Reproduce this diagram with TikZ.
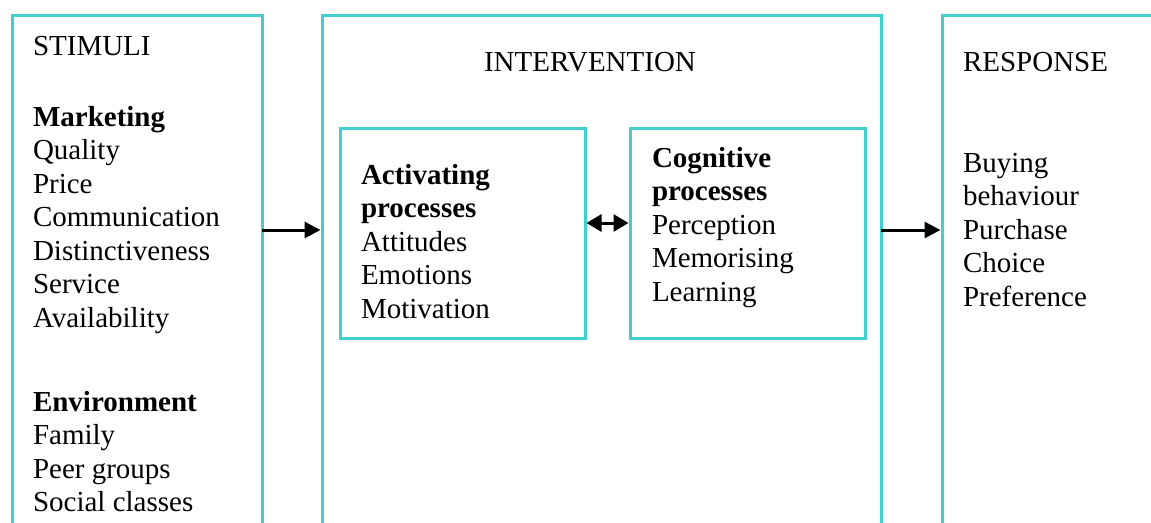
\documentclass[tikz,border=0pt]{standalone}
\usepackage{fontspec}
\setmainfont{Liberation Serif}
\usetikzlibrary{arrows.meta}
\definecolor{boxc}{RGB}{66,206,206}
\begin{document}
\begin{tikzpicture}[x=1pt,y=-1pt,
  box/.style={draw=boxc,line width=3pt,inner sep=0pt,outer sep=0pt,anchor=north west},
  txt/.style={anchor=base west,inner sep=0pt,outer sep=0pt,font=\fontsize{29}{34}\selectfont},
  arr/.style={line width=3pt,-{Triangle[length=16pt,width=16pt]},shorten >=1.5pt},
  darr/.style={line width=3pt,{Triangle[length=15pt,width=17pt]}-{Triangle[length=15pt,width=17pt]},shorten >=1.5pt,shorten <=1.5pt}]
\useasboundingbox (0,0) rectangle (1151,522);
\clip (0,0) rectangle (1151,522);
% boxes
\node[box,minimum width=250pt,minimum height=600pt] (stim) at (12,15) {};
\node[box,minimum width=559pt,minimum height=600pt] (inter) at (322,15) {};
\node[box,minimum width=400pt,minimum height=600pt] (resp) at (942,15) {};
\node[box,minimum width=245pt,minimum height=210pt] (act) at (340,128) {};
\node[box,minimum width=235pt,minimum height=210pt] (cog) at (630,128) {};
% connectors
\draw[arr] (stim.east |- 0,230) -- (inter.west |- 0,230);
\draw[arr] (inter.east |- 0,230) -- (resp.west |- 0,230);
\draw[darr] (act.east |- 0,223) -- (cog.west |- 0,223);
% stimuli text
\node[txt] (t0) at (33,55) {STIMULI};
\node[txt] (m0) at (33,126) {\textbf{Marketing}};
\foreach \t [count=\i] in {Quality,Price,Communication,Distinctiveness,Service,Availability}
  \node[txt] (m\i) at (33,{126+33.5*\i}) {\t};
\node[txt] (e0) at (33,411) {\textbf{Environment}};
\foreach \t [count=\i] in {Family,Peer groups,Social classes}
  \node[txt] (e\i) at (33,{411+33.5*\i}) {\t};
% intervention
\node[txt] (t1) at (484,71) {INTERVENTION};
\node[txt] (a0) at (361,184) {\textbf{Activating}};
\node[txt] (a1) at (361,217.5) {\textbf{processes}};
\foreach \t [count=\i] in {Attitudes,Emotions,Motivation}
  \node[txt] (a\i x) at (361,{217.5+33.5*\i}) {\t};
\node[txt] (c0) at (652,167) {\textbf{Cognitive}};
\node[txt] (c1) at (652,200.5) {\textbf{processes}};
\foreach \t [count=\i] in {Perception,Memorising,Learning}
  \node[txt] (c\i x) at (652,{200.5+33.5*\i}) {\t};
% response
\node[txt] (t2) at (963,71) {RESPONSE};
\foreach \t [count=\i] in {Buying,behaviour,Purchase,Choice,Preference}
  \node[txt] (r\i) at (963,{172+33.5*(\i-1)}) {\t};
\end{tikzpicture}
\end{document}
